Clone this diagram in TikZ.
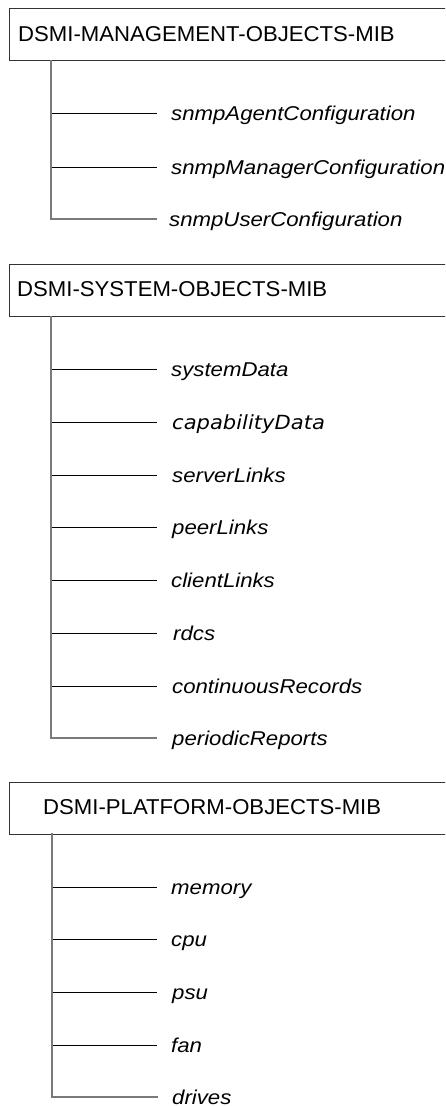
\documentclass[tikz,border=0pt]{standalone}
\usepackage{fontspec}
\setmainfont{Liberation Sans}
\newfontfamily\headfont[FakeStretch=1.03]{Liberation Sans}
\newfontfamily\leaffont[FakeStretch=1.11]{Liberation Sans}
\newfontfamily\altleaffont[FakeStretch=1.08]{DejaVu Sans}
\definecolor{trunkgray}{HTML}{7A7A7A}
\definecolor{boxline}{HTML}{333333}
\begin{document}
\begin{tikzpicture}[x=1pt,y=-1pt,
  mib/.style={draw=boxline, line width=1pt, rectangle, anchor=north west,
    minimum width=460pt, minimum height=52pt, inner sep=0pt},
  mibtext/.style={anchor=base west, inner sep=0pt,
    font=\headfont\fontsize{21.5pt}{24pt}\selectfont},
  leaf/.style={anchor=west, inner sep=0pt, text height=14pt, text depth=0pt,
    font=\leaffont\itshape\fontsize{20pt}{22pt}\selectfont},
  trunk/.style={draw=trunkgray, line width=1.3pt},
  branch/.style={draw=black, line width=0.9pt},
]
\useasboundingbox (0,0) rectangle (445,1106);
\clip (0,0) rectangle (445,1106);
\fill[white] (0,0) rectangle (445,1106);

% ---- DSMI-MANAGEMENT-OBJECTS-MIB ----
\node[mib] (m1) at (9,8) {};
\node[mibtext] (m1t) at (18,41) {DSMI-MANAGEMENT-OBJECTS-MIB};
\coordinate (r1) at (51,60);
\node[leaf] (a1) at (171,113) {snmpAgentConfiguration};
\node[leaf] (a2) at (171,167) {snmpManagerConfiguration};
\node[leaf] (a3) at (169,219) {snmpUserConfiguration};
\draw[branch] ([xshift=-14pt]a1.west) -- (a1.west -| r1);
\draw[branch] ([xshift=-14pt]a2.west) -- (a2.west -| r1);
\draw[trunk] (r1) |- ([xshift=-12pt]a3.west);

% ---- DSMI-SYSTEM-OBJECTS-MIB ----
\node[mib] (m2) at (9,264) {};
\node[mibtext] (m2t) at (17,296.5) {DSMI-SYSTEM-OBJECTS-MIB};
\coordinate (r2) at (51,316);
\node[leaf] (b1) at (171,369) {systemData};
\node[leaf, font=\altleaffont\itshape\fontsize{19.5pt}{22pt}\selectfont] (b2) at (172,422) {capabilityData};
\node[leaf] (b3) at (172,475) {serverLinks};
\node[leaf] (b4) at (172,527) {peerLinks};
\node[leaf] (b5) at (171,580) {clientLinks};
\node[leaf] (b6) at (173,633) {rdcs};
\node[leaf] (b7) at (172,686) {continuousRecords};
\node[leaf] (b8) at (172,738) {periodicReports};
\draw[branch] ([xshift=-14pt]b1.west) -- (b1.west -| r2);
\draw[branch] ([xshift=-15pt]b2.west) -- (b2.west -| r2);
\draw[branch] ([xshift=-15pt]b3.west) -- (b3.west -| r2);
\draw[branch] ([xshift=-15pt]b4.west) -- (b4.west -| r2);
\draw[branch] ([xshift=-14pt]b5.west) -- (b5.west -| r2);
\draw[branch] ([xshift=-16pt]b6.west) -- (b6.west -| r2);
\draw[branch] ([xshift=-15pt]b7.west) -- (b7.west -| r2);
\draw[trunk] (r2) |- ([xshift=-15pt]b8.west);

% ---- DSMI-PLATFORM-OBJECTS-MIB ----
\node[mib] (m3) at (9,782) {};
\node[mibtext] (m3t) at (43,814) {DSMI-PLATFORM-OBJECTS-MIB};
\coordinate (r3) at (52,833);
\node[leaf] (c1) at (171,887) {memory};
\node[leaf] (c2) at (171,939) {cpu};
\node[leaf] (c3) at (172,992) {psu};
\node[leaf] (c4) at (171,1045) {fan};
\node[leaf] (c5) at (172,1097) {drives};
\draw[branch] ([xshift=-14pt]c1.west) -- (c1.west -| r3);
\draw[branch] ([xshift=-14pt]c2.west) -- (c2.west -| r3);
\draw[branch] ([xshift=-15pt]c3.west) -- (c3.west -| r3);
\draw[branch] ([xshift=-14pt]c4.west) -- (c4.west -| r3);
\draw[trunk] (r3) |- ([xshift=-14pt]c5.west);
\end{tikzpicture}
\end{document}
